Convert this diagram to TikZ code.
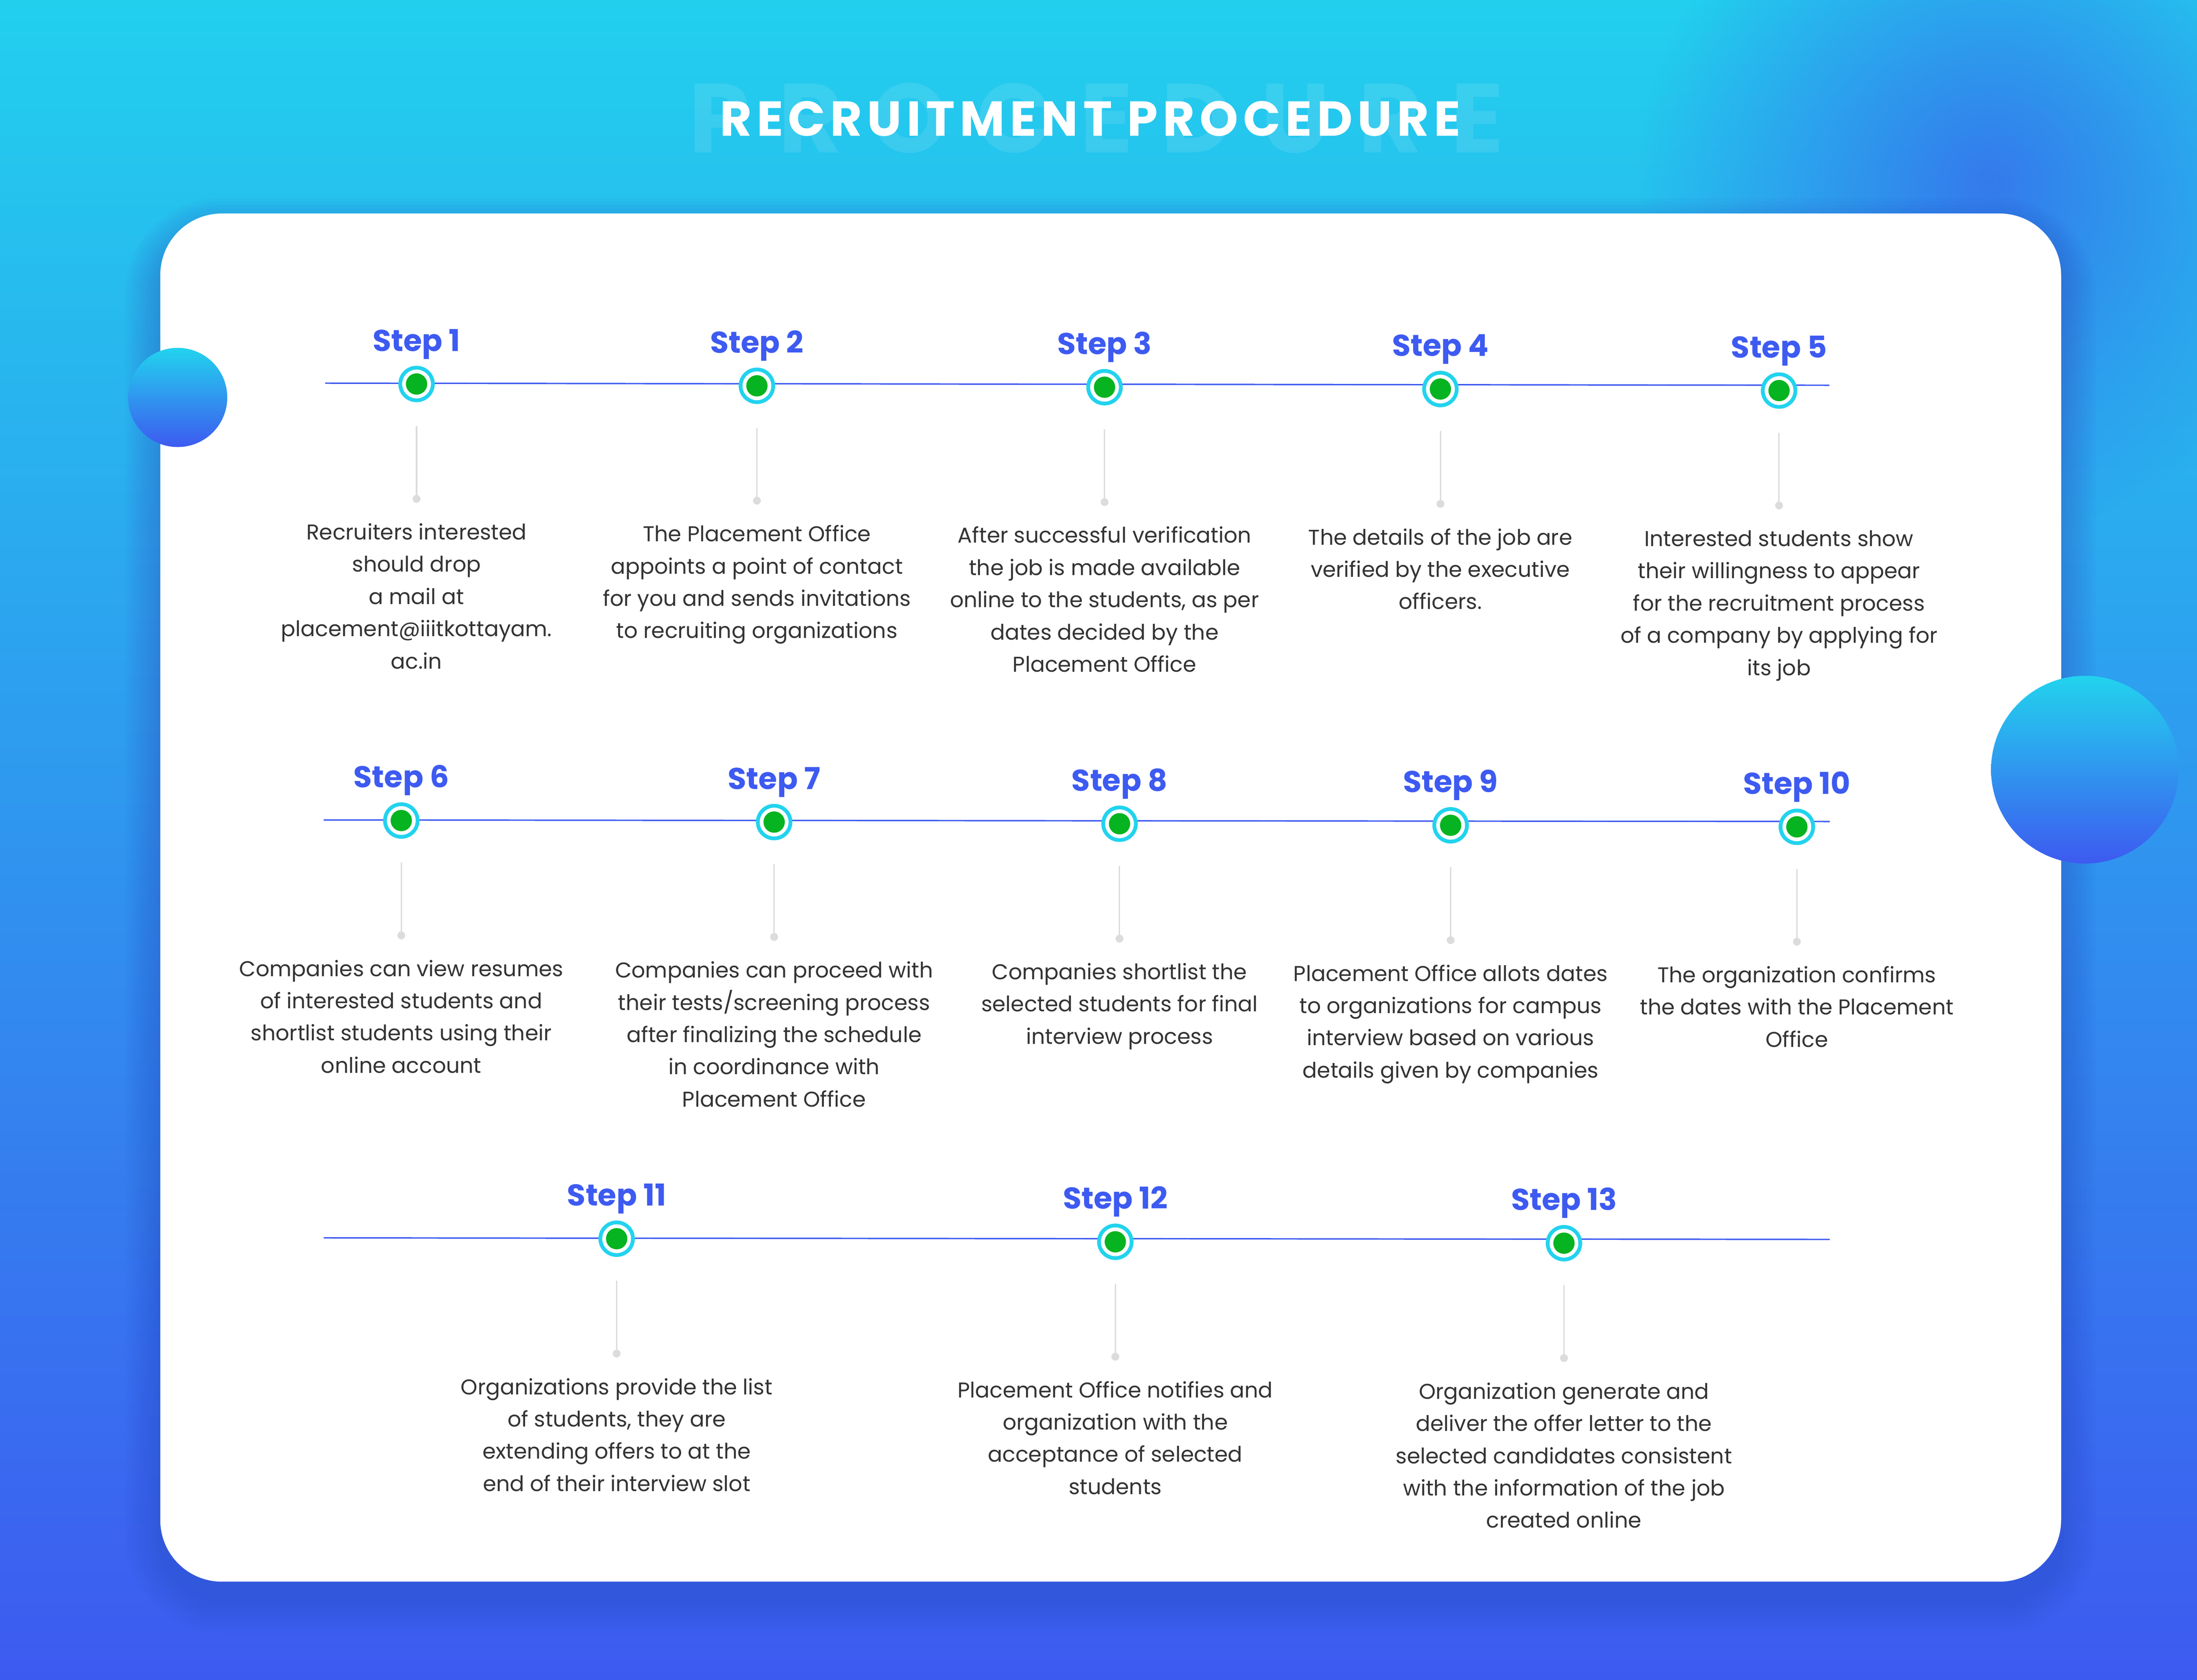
\documentclass[tikz,border=0pt]{standalone}
\usepackage{fontspec}
\setmainfont{Poppins}
\newfontfamily\titlefont{Poppins}[LetterSpace=10]
\newfontfamily\ghostfont{Poppins}[LetterSpace=29]
\usetikzlibrary{fadings}
\tikzfading[name=blobfade, inner color=transparent!0, outer color=transparent!100]
\definecolor{bgtop}{HTML}{22D0EE}
\definecolor{bgmid}{HTML}{2F97EE}
\definecolor{bgbot}{HTML}{3D5AF0}
\definecolor{lineblue}{HTML}{3D5AF1}
\definecolor{ringcyan}{HTML}{22D3EE}
\definecolor{dotgreen}{HTML}{06B320}
\definecolor{connectgray}{HTML}{DCDCDC}
\definecolor{txt}{HTML}{333333}
\definecolor{blob}{HTML}{3672EC}
\definecolor{shadowcol}{HTML}{2C45C0}
\tikzset{
  stepmarker/.style={circle, draw=ringcyan, line width=2.7pt, fill=white, minimum size=23.3pt, inner sep=0pt},
  stepdot/.style={circle, fill=dotgreen, minimum size=15.2pt, inner sep=0pt},
  graydot/.style={circle, fill=connectgray, minimum size=5.6pt, inner sep=0pt},
  connector/.style={draw=connectgray, line width=1pt},
  timeline/.style={draw=lineblue, line width=1pt},
  steplabel/.style={font=\fontsize{21.5}{26}\selectfont\bfseries, text=lineblue, inner sep=0pt},
  desc/.style={font=\fontsize{15.3}{23}\selectfont, text=txt, align=center, inner sep=0pt},
  titlestyle/.style={font=\titlefont\fontsize{35}{40}\selectfont\bfseries, text=white, inner sep=0pt},
  ghoststyle/.style={font=\ghostfont\fontsize{70}{80}\selectfont\bfseries, text=white, text opacity=0.1, inner sep=0pt},
  decocircle/.style={top color=ringcyan, bottom color=bgbot, draw=none}
}
% #1 id, #2 x, #3 y, #4 label, #5 text, #6 number of text lines
\newcommand\drawstep[6]{%
  \node[stepmarker] (m#1) at (#2,#3) {};
  \node[stepdot] (g#1) at (m#1.center) {};
  \node[steplabel, anchor=base] (l#1) at (#2,#3-23.5) {#4};
  \node[graydot] (d#1) at (#2,#3+82) {};
  \draw[connector] ([yshift=-17pt]m#1.south) -- (d#1.center);
  \node[desc, anchor=base] (t#1) at (#2,#3+111.2+23*#6-23) {#5};
}
\begin{document}
\begin{tikzpicture}[x=1pt,y=-1pt]
\useasboundingbox (0,0) rectangle (1568,1198.9);
% background
\shade[top color=bgtop, middle color=bgmid, bottom color=bgbot] (0,0) rectangle (1568,1198.9);
\fill[blob, opacity=0.9, path fading=blobfade] (1420,130) circle (250);
% title
\node[ghoststyle] (ghost) at (782.5,84.4) {PROCEDURE};
\node[titlestyle] (title) at (778,84.6) {RECRUITMENT PROCEDURE};
% card shadow
\foreach \i in {1,...,10}{
  \fill[shadowcol, opacity=0.035, rounded corners=44+2.5*\i] (114.4-2.5*\i,152.4+14-2.5*\i) rectangle (1471+2.5*\i,1129+12+2.5*\i);
}
% card
\fill[white, rounded corners=44] (114.4,152.4) rectangle (1471,1129);
% decorative circles
\shade[decocircle] (126.8,283.7) circle (35.4);
\shade[decocircle] (1488,549.4) circle (67);
% timelines
\coordinate (r1s) at (232,273.5);
\coordinate (r1e) at (1305.6,275);
\coordinate (r2s) at (231,585.3);
\coordinate (r2e) at (1305.9,586.4);
\coordinate (r3s) at (231,883.6);
\coordinate (r3e) at (1305.9,884.7);
\draw[timeline] (r1s) -- (r1e);
\draw[timeline] (r2s) -- (r2e);
\draw[timeline] (r3s) -- (r3e);
% steps
\drawstep{1}{297.3}{274.1}{Step 1}{Recruiters interested\\should drop\\a mail at\\placement@iiitkottayam.\\ac.in}{5}
\drawstep{2}{540.2}{275.4}{Step 2}{The Placement Office\\appoints a point of contact\\for you and sends invitations\\to recruiting organizations}{4}
\drawstep{3}{788.3}{276.4}{Step 3}{After successful verification\\the job is made available\\online to the students, as per\\dates decided by the\\Placement Office}{5}
\drawstep{4}{1028}{277.7}{Step 4}{The details of the job are\\verified by the executive\\officers.}{3}
\drawstep{5}{1269.7}{278.8}{Step 5}{Interested students show\\their willingness to appear\\for the recruitment process\\of a company by applying for\\its job}{5}
\drawstep{6}{286.4}{585.7}{Step 6}{Companies can view resumes\\of interested students and\\shortlist students using their\\online account}{4}
\drawstep{7}{552.5}{586.8}{Step 7}{Companies can proceed with\\their tests/screening process\\after finalizing the schedule\\in coordinance with\\Placement Office}{5}
\drawstep{8}{799}{588}{Step 8}{Companies shortlist the\\selected students for final\\interview process}{3}
\drawstep{9}{1035.3}{589.1}{Step 9}{Placement Office allots dates\\to organizations for campus\\interview based on various\\details given by companies}{4}
\drawstep{10}{1282.4}{590.2}{Step 10}{The organization confirms\\the dates with the Placement\\Office}{3}
\drawstep{11}{440.1}{884.2}{Step 11}{Organizations provide the list\\of students, they are\\extending offers to at the\\end of their interview slot}{4}
\drawstep{12}{796}{886.4}{Step 12}{Placement Office notifies and\\organization with the\\acceptance of selected\\students}{4}
\drawstep{13}{1116.2}{887.4}{Step 13}{Organization generate and\\deliver the offer letter to the\\selected candidates consistent\\with the information of the job\\created online}{5}
\end{tikzpicture}
\end{document}
